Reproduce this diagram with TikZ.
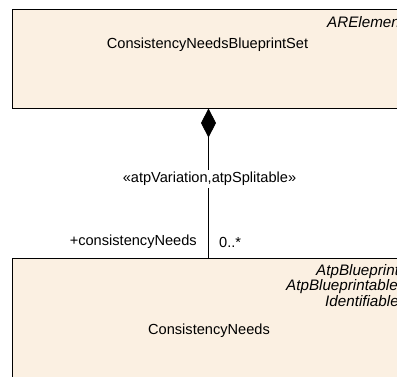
\documentclass[tikz,border=0pt]{standalone}
\usepackage{fontspec}
\setmainfont{Liberation Sans}
\usetikzlibrary{arrows.meta}
\definecolor{boxfill}{RGB}{251,240,226}
\tikzset{
  umlbox/.style={draw=black, line width=1pt, fill=boxfill, rectangle, inner sep=0pt},
  lbl/.style={font=\fontsize{14.6}{17}\selectfont, inner sep=0pt},
  ital/.style={lbl, font=\fontsize{15.2}{17}\selectfont\itshape},
  assoc/.style={line width=0.9pt, {Diamond[length=29pt,width=15pt]}-}
}
\begin{document}
\begin{tikzpicture}[x=1pt,y=1pt]
\clip (0,0) rectangle (397,-376);
\fill[white] (0,0) rectangle (397,-376);
\node[umlbox, minimum width=392pt, minimum height=99pt] (set) at (208.5,-58.5) {};
\node[umlbox, minimum width=392pt, minimum height=140pt] (needs) at (208.5,-328) {};
\node[lbl] (setname) at (207.5,-45) {ConsistencyNeedsBlueprintSet};
\node[ital, anchor=west] (setst) at (327,-22) {ARElement};
\node[lbl] (needsname) at (209,-331) {ConsistencyNeeds};
\node[ital, anchor=west] (st1) at (316,-272) {AtpBlueprint};
\node[ital, anchor=west] (st2) at (286,-287) {AtpBlueprintable};
\node[ital, anchor=west] (st3) at (325,-301) {Identifiable};
\draw[assoc] (set.south) -- (needs.north);
\node[lbl, fill=white, inner xsep=0pt, inner ysep=2pt] (stereo) at (209.5,-179) {«atpVariation,atpSplitable»};
\node[lbl, anchor=east] (role) at (197,-242) {+consistencyNeeds};
\node[lbl, anchor=west] (mult) at (219,-242) {0..*};
\end{tikzpicture}
\end{document}
